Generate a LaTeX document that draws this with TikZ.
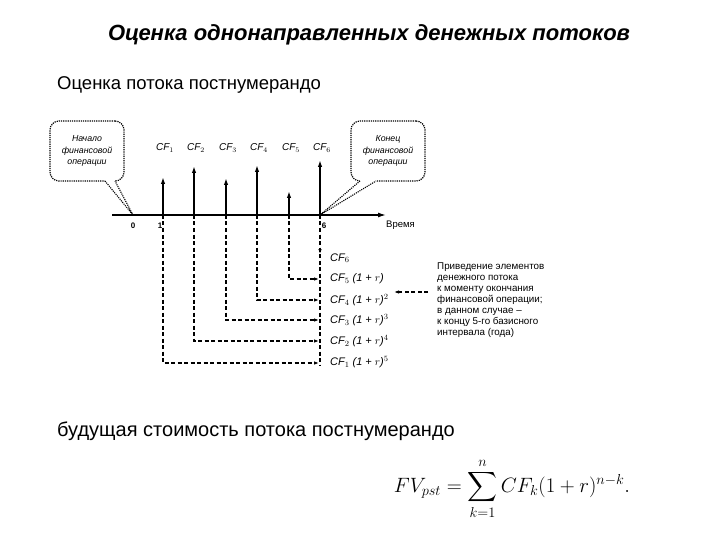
\documentclass[tikz,border=0pt]{standalone}
\usepackage{amsmath}
\usepackage{fontspec}
\setmainfont{Liberation Sans}
\usetikzlibrary{arrows.meta}
\begin{document}
\begin{tikzpicture}[x=1pt,y=-1pt,
  every node/.style={inner sep=0pt},
  uparr/.style={line width=1.4pt,-{Latex[length=7pt,width=4.5pt]}},
  dsh/.style={line width=1.1pt,dash pattern=on 4pt off 2.5pt},
  dsharr/.style={dsh,-{Latex[length=5pt,width=3.5pt]}},
  callout/.style={draw,densely dotted,line width=1.2pt,rounded corners=9pt,minimum width=74pt,minimum height=60pt,align=center,font=\fontsize{8.8}{11.5}\selectfont\itshape},
  cflab/.style={font=\fontsize{11}{12}\selectfont\itshape,anchor=west},
  ticklab/.style={font=\fontsize{8}{9}\selectfont\bfseries},
  ]
\useasboundingbox (0,0) rectangle (720,540);
% titles
\node (title) at (369,35) {\fontsize{22}{26}\selectfont\bfseries\itshape Оценка однонаправленных денежных потоков};
\node[anchor=west,font=\fontsize{18.5}{21}\selectfont] (sub1) at (57,85) {Оценка потока постнумерандо};
\node[anchor=west,font=\fontsize{20}{23}\selectfont] (sub2) at (57,431) {будущая стоимость потока постнумерандо};
% axis
\coordinate (ax0) at (112,215);
\coordinate (axend) at (386,215);
\draw[line width=1.4pt,-{Latex[length=8pt,width=5pt]}] (ax0) -- (axend);
\node[font=\fontsize{9.5}{10}\selectfont,anchor=west] (time) at (386,225) {Время};
\coordinate (t0) at (133,215);
\foreach \i/\x in {1/163,2/194,3/226,4/257,5/289,6/320}{
  \coordinate (t\i) at (\x,215);
}
\node[ticklab] (l0) at (133,226) {0};
\node[ticklab] (l1) at (160,226) {1};
\node[ticklab] (l6) at (324,226) {6};
% upward arrows
\foreach \i/\x/\top in {1/163/177,2/194/166,3/226/178,4/257/165,5/289/191,6/320/160}{
  \coordinate (u\i) at (\x,\top);
  \draw[uparr] (t\i) -- (u\i);
  \node[font=\fontsize{10}{11}\selectfont\itshape] (cf\i) at (\x+2,148) {CF$_{\i}$};
}
% right dashed vertical and CF6 arrow
\coordinate (vbot) at (320,365);
\coordinate (cf6a) at (320,254);
\draw[dsh] (t6) -- (vbot);
\draw[dsharr] (t6) -- (cf6a);
% dashed brackets
\foreach \i/\row in {5/279,4/300,3/320,2/341,1/363}{
  \coordinate (r\i) at (319,\row);
  \draw[dsharr] (t\i) |- (r\i);
}
% row labels
\node[cflab] (f6) at (330,258) {CF$_6$};
\node[cflab] (f5) at (330,279) {CF$_5$ (1 + $r$)};
\node[cflab] (f4) at (330,300) {CF$_4$ (1 + $r$)$^2$};
\node[cflab] (f3) at (330,320) {CF$_3$ (1 + $r$)$^3$};
\node[cflab] (f2) at (330,341) {CF$_2$ (1 + $r$)$^4$};
\node[cflab] (f1) at (330,362) {CF$_1$ (1 + $r$)$^5$};
% explanation
\node[anchor=north west,align=left,font=\fontsize{9.8}{11}\selectfont] (expl) at (437,263)
 {Приведение элементов\\денежного потока\\к моменту окончания\\финансовой операции;\\в данном случае –\\к концу 5-го базисного\\интервала (года)};
\coordinate (ea) at (428,292);
\coordinate (eb) at (394,292);
\draw[dsharr] (ea) -- (eb);
% callouts
\node[callout] (cl) at (87,151) {Начало\\финансовой\\операции};
\coordinate (clA) at (105,181);
\coordinate (clB) at (115,181);
\draw[white,line width=2pt] (clA) -- (clB);
\draw[densely dotted,line width=1.1pt] (clA) -- (t0) -- (clB);
\node[callout] (cr) at (388,151) {Конец\\финансовой\\операции};
\coordinate (crA) at (360,181);
\coordinate (crB) at (376,181);
\draw[white,line width=2pt] (crA) -- (crB);
\draw[densely dotted,line width=1.1pt] (crA) -- (t6) -- (crB);
% formula
\node (fml) at (512,489) {\fontsize{21}{25}\selectfont $\displaystyle FV_{pst} = \sum_{k=1}^{n} CF_k(1+r)^{n-k}.$};
\end{tikzpicture}
\end{document}
